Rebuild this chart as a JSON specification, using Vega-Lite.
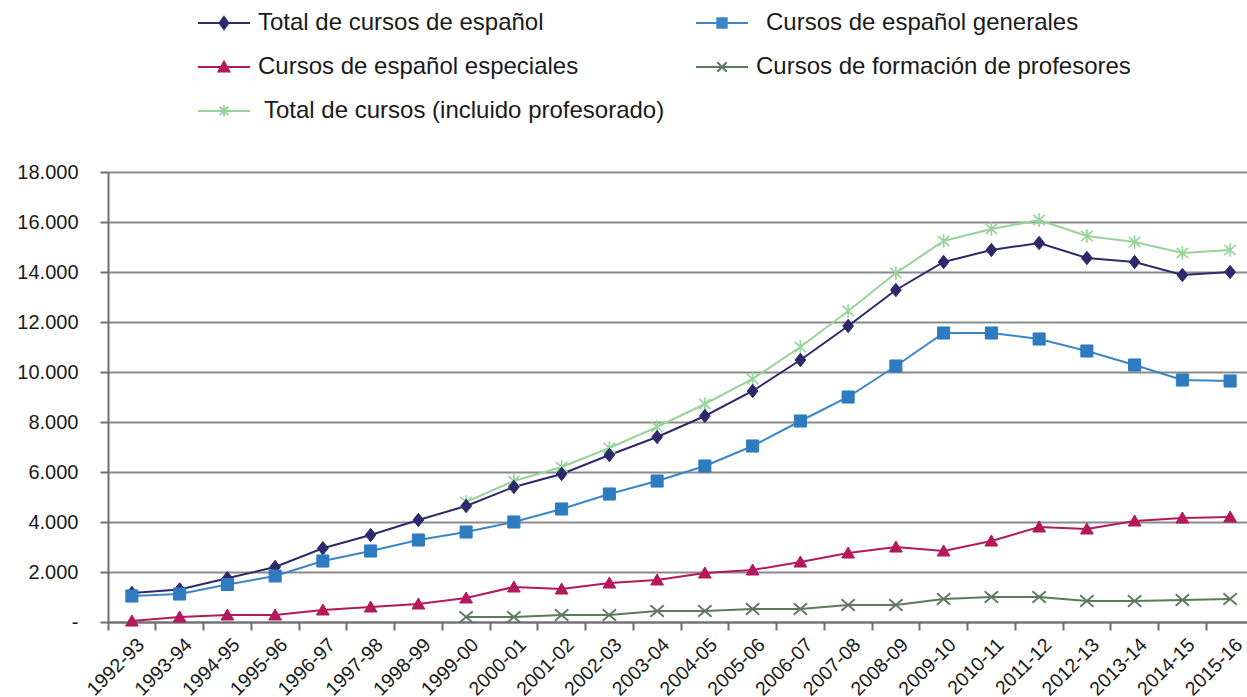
{
  "$schema": "https://vega.github.io/schema/vega-lite/v6.json",
  "width": 1139,
  "height": 450,
  "autosize": {"type": "none"},
  "padding": {"left": 108, "top": 172, "right": 0, "bottom": 75},
  "background": "white",
  "config": {"font": "Liberation Sans", "view": {"stroke": null}},
  "data": {"values": [
    {"periodo": "1992-93", "serie": "Total de cursos de español", "valor": 1160},
    {"periodo": "1993-94", "serie": "Total de cursos de español", "valor": 1300},
    {"periodo": "1994-95", "serie": "Total de cursos de español", "valor": 1750},
    {"periodo": "1995-96", "serie": "Total de cursos de español", "valor": 2200},
    {"periodo": "1996-97", "serie": "Total de cursos de español", "valor": 2950},
    {"periodo": "1997-98", "serie": "Total de cursos de español", "valor": 3480},
    {"periodo": "1998-99", "serie": "Total de cursos de español", "valor": 4080},
    {"periodo": "1999-00", "serie": "Total de cursos de español", "valor": 4640},
    {"periodo": "2000-01", "serie": "Total de cursos de español", "valor": 5400},
    {"periodo": "2001-02", "serie": "Total de cursos de español", "valor": 5920},
    {"periodo": "2002-03", "serie": "Total de cursos de español", "valor": 6680},
    {"periodo": "2003-04", "serie": "Total de cursos de español", "valor": 7400},
    {"periodo": "2004-05", "serie": "Total de cursos de español", "valor": 8240},
    {"periodo": "2005-06", "serie": "Total de cursos de español", "valor": 9240},
    {"periodo": "2006-07", "serie": "Total de cursos de español", "valor": 10480},
    {"periodo": "2007-08", "serie": "Total de cursos de español", "valor": 11840},
    {"periodo": "2008-09", "serie": "Total de cursos de español", "valor": 13280},
    {"periodo": "2009-10", "serie": "Total de cursos de español", "valor": 14400},
    {"periodo": "2010-11", "serie": "Total de cursos de español", "valor": 14880},
    {"periodo": "2011-12", "serie": "Total de cursos de español", "valor": 15160},
    {"periodo": "2012-13", "serie": "Total de cursos de español", "valor": 14560},
    {"periodo": "2013-14", "serie": "Total de cursos de español", "valor": 14400},
    {"periodo": "2014-15", "serie": "Total de cursos de español", "valor": 13880},
    {"periodo": "2015-16", "serie": "Total de cursos de español", "valor": 14000},
    {"periodo": "1992-93", "serie": "Cursos de español generales", "valor": 1040},
    {"periodo": "1993-94", "serie": "Cursos de español generales", "valor": 1120},
    {"periodo": "1994-95", "serie": "Cursos de español generales", "valor": 1500},
    {"periodo": "1995-96", "serie": "Cursos de español generales", "valor": 1840},
    {"periodo": "1996-97", "serie": "Cursos de español generales", "valor": 2440},
    {"periodo": "1997-98", "serie": "Cursos de español generales", "valor": 2840},
    {"periodo": "1998-99", "serie": "Cursos de español generales", "valor": 3280},
    {"periodo": "1999-00", "serie": "Cursos de español generales", "valor": 3600},
    {"periodo": "2000-01", "serie": "Cursos de español generales", "valor": 4000},
    {"periodo": "2001-02", "serie": "Cursos de español generales", "valor": 4520},
    {"periodo": "2002-03", "serie": "Cursos de español generales", "valor": 5120},
    {"periodo": "2003-04", "serie": "Cursos de español generales", "valor": 5640},
    {"periodo": "2004-05", "serie": "Cursos de español generales", "valor": 6240},
    {"periodo": "2005-06", "serie": "Cursos de español generales", "valor": 7040},
    {"periodo": "2006-07", "serie": "Cursos de español generales", "valor": 8040},
    {"periodo": "2007-08", "serie": "Cursos de español generales", "valor": 9000},
    {"periodo": "2008-09", "serie": "Cursos de español generales", "valor": 10240},
    {"periodo": "2009-10", "serie": "Cursos de español generales", "valor": 11560},
    {"periodo": "2010-11", "serie": "Cursos de español generales", "valor": 11560},
    {"periodo": "2011-12", "serie": "Cursos de español generales", "valor": 11320},
    {"periodo": "2012-13", "serie": "Cursos de español generales", "valor": 10840},
    {"periodo": "2013-14", "serie": "Cursos de español generales", "valor": 10280},
    {"periodo": "2014-15", "serie": "Cursos de español generales", "valor": 9680},
    {"periodo": "2015-16", "serie": "Cursos de español generales", "valor": 9640},
    {"periodo": "1992-93", "serie": "Cursos de español especiales", "valor": 40},
    {"periodo": "1993-94", "serie": "Cursos de español especiales", "valor": 200},
    {"periodo": "1994-95", "serie": "Cursos de español especiales", "valor": 280},
    {"periodo": "1995-96", "serie": "Cursos de español especiales", "valor": 280},
    {"periodo": "1996-97", "serie": "Cursos de español especiales", "valor": 480},
    {"periodo": "1997-98", "serie": "Cursos de español especiales", "valor": 600},
    {"periodo": "1998-99", "serie": "Cursos de español especiales", "valor": 720},
    {"periodo": "1999-00", "serie": "Cursos de español especiales", "valor": 960},
    {"periodo": "2000-01", "serie": "Cursos de español especiales", "valor": 1400},
    {"periodo": "2001-02", "serie": "Cursos de español especiales", "valor": 1320},
    {"periodo": "2002-03", "serie": "Cursos de español especiales", "valor": 1560},
    {"periodo": "2003-04", "serie": "Cursos de español especiales", "valor": 1680},
    {"periodo": "2004-05", "serie": "Cursos de español especiales", "valor": 1960},
    {"periodo": "2005-06", "serie": "Cursos de español especiales", "valor": 2080},
    {"periodo": "2006-07", "serie": "Cursos de español especiales", "valor": 2400},
    {"periodo": "2007-08", "serie": "Cursos de español especiales", "valor": 2760},
    {"periodo": "2008-09", "serie": "Cursos de español especiales", "valor": 3000},
    {"periodo": "2009-10", "serie": "Cursos de español especiales", "valor": 2840},
    {"periodo": "2010-11", "serie": "Cursos de español especiales", "valor": 3240},
    {"periodo": "2011-12", "serie": "Cursos de español especiales", "valor": 3800},
    {"periodo": "2012-13", "serie": "Cursos de español especiales", "valor": 3720},
    {"periodo": "2013-14", "serie": "Cursos de español especiales", "valor": 4040},
    {"periodo": "2014-15", "serie": "Cursos de español especiales", "valor": 4160},
    {"periodo": "2015-16", "serie": "Cursos de español especiales", "valor": 4200},
    {"periodo": "1999-00", "serie": "Cursos de formación de profesores", "valor": 200},
    {"periodo": "2000-01", "serie": "Cursos de formación de profesores", "valor": 200},
    {"periodo": "2001-02", "serie": "Cursos de formación de profesores", "valor": 280},
    {"periodo": "2002-03", "serie": "Cursos de formación de profesores", "valor": 280},
    {"periodo": "2003-04", "serie": "Cursos de formación de profesores", "valor": 440},
    {"periodo": "2004-05", "serie": "Cursos de formación de profesores", "valor": 440},
    {"periodo": "2005-06", "serie": "Cursos de formación de profesores", "valor": 520},
    {"periodo": "2006-07", "serie": "Cursos de formación de profesores", "valor": 520},
    {"periodo": "2007-08", "serie": "Cursos de formación de profesores", "valor": 680},
    {"periodo": "2008-09", "serie": "Cursos de formación de profesores", "valor": 680},
    {"periodo": "2009-10", "serie": "Cursos de formación de profesores", "valor": 920},
    {"periodo": "2010-11", "serie": "Cursos de formación de profesores", "valor": 1000},
    {"periodo": "2011-12", "serie": "Cursos de formación de profesores", "valor": 1000},
    {"periodo": "2012-13", "serie": "Cursos de formación de profesores", "valor": 840},
    {"periodo": "2013-14", "serie": "Cursos de formación de profesores", "valor": 840},
    {"periodo": "2014-15", "serie": "Cursos de formación de profesores", "valor": 880},
    {"periodo": "2015-16", "serie": "Cursos de formación de profesores", "valor": 920},
    {"periodo": "1999-00", "serie": "Total de cursos (incluido profesorado)", "valor": 4800},
    {"periodo": "2000-01", "serie": "Total de cursos (incluido profesorado)", "valor": 5640},
    {"periodo": "2001-02", "serie": "Total de cursos (incluido profesorado)", "valor": 6200},
    {"periodo": "2002-03", "serie": "Total de cursos (incluido profesorado)", "valor": 6960},
    {"periodo": "2003-04", "serie": "Total de cursos (incluido profesorado)", "valor": 7800},
    {"periodo": "2004-05", "serie": "Total de cursos (incluido profesorado)", "valor": 8720},
    {"periodo": "2005-06", "serie": "Total de cursos (incluido profesorado)", "valor": 9720},
    {"periodo": "2006-07", "serie": "Total de cursos (incluido profesorado)", "valor": 11000},
    {"periodo": "2007-08", "serie": "Total de cursos (incluido profesorado)", "valor": 12440},
    {"periodo": "2008-09", "serie": "Total de cursos (incluido profesorado)", "valor": 13960},
    {"periodo": "2009-10", "serie": "Total de cursos (incluido profesorado)", "valor": 15240},
    {"periodo": "2010-11", "serie": "Total de cursos (incluido profesorado)", "valor": 15720},
    {"periodo": "2011-12", "serie": "Total de cursos (incluido profesorado)", "valor": 16080},
    {"periodo": "2012-13", "serie": "Total de cursos (incluido profesorado)", "valor": 15440},
    {"periodo": "2013-14", "serie": "Total de cursos (incluido profesorado)", "valor": 15200},
    {"periodo": "2014-15", "serie": "Total de cursos (incluido profesorado)", "valor": 14760},
    {"periodo": "2015-16", "serie": "Total de cursos (incluido profesorado)", "valor": 14880}
  ]},
  "encoding": {
    "x": {
      "field": "periodo", "type": "nominal", "sort": null,
      "scale": {"type": "band", "paddingInner": 0, "paddingOuter": 0, "range": [0, 1146]},
      "axis": {
        "title": null, "bandPosition": 0, "labelOffset": 3, "labelAngle": -45,
        "labelAlign": "right", "labelBaseline": "top", "labelPadding": 5,
        "labelFontSize": 19.5, "labelColor": "#1a1a1a", "labelFont": "Liberation Sans",
        "domainColor": "#6e6e6e", "domainWidth": 2, "tickColor": "#6e6e6e",
        "tickWidth": 2, "tickSize": 8, "grid": false
      }
    },
    "y": {
      "field": "valor", "type": "quantitative",
      "scale": {"domain": [0, 18000], "nice": false},
      "axis": {
        "title": null, "values": [0, 2000, 4000, 6000, 8000, 10000, 12000, 14000, 16000, 18000],
        "labelExpr": "datum.value == 0 ? '-' : replace(format(datum.value, ','), ',', '.')",
        "grid": true, "gridColor": "#8a8a8a", "gridWidth": 2,
        "domainColor": "#6e6e6e", "domainWidth": 2, "tickColor": "#6e6e6e",
        "tickWidth": 2, "tickSize": 8, "labelPadding": 22,
        "labelFontSize": 20, "labelColor": "#1a1a1a", "labelFont": "Liberation Sans"
      }
    }
  },
  "layer": [
    {
      "mark": {"type": "line", "strokeWidth": 2},
      "encoding": {
        "color": {
          "field": "serie", "type": "nominal",
          "scale": {
            "domain": ["Total de cursos de español", "Cursos de español generales", "Cursos de español especiales", "Cursos de formación de profesores", "Total de cursos (incluido profesorado)"],
            "range": ["#2d2a6b", "#3a86c9", "#b3195b", "#5b7a5b", "#98d49a"]
          },
          "legend": {
            "orient": "none", "legendX": 89, "legendY": -176, "columns": 2, "direction": "horizontal", "title": null,
            "labelFont": "Liberation Sans", "labelFontSize": 24, "labelColor": "#1a1a1a",
            "symbolSize": 2704, "labelOffset": 7, "columnPadding": 27, "rowPadding": 5,
            "labelLimit": 600,
            "encode": {
              "labels": {
                "update": {
                  "dx": {"signal": "indexof(datum.value, 'generales') >= 0 ? 10 : (indexof(datum.value, 'incluido') >= 0 ? 6 : 0)"}
                }
              },
              "symbols": {
                "update": {
                  "shape": {"signal": "datum.value == 'Total de cursos de español' ? 'M-1,0H1M0,-0.23L0.17,0L0,0.23L-0.17,0Z' : datum.value == 'Cursos de español generales' ? 'M-1,0H1M-0.18,-0.18H0.18V0.18H-0.18Z' : datum.value == 'Cursos de español especiales' ? 'M-1,0H1M0,-0.2L0.21,0.17H-0.21Z' : datum.value == 'Cursos de formación de profesores' ? 'M-1,0H1M-0.18,-0.18L0.18,0.18M-0.18,0.18L0.18,-0.18' : 'M-1,0H1M-0.16,-0.16L0.16,0.16M-0.16,0.16L0.16,-0.16M0,-0.2V0.2'"},
                  "fill": {"signal": "scale('color', datum.value)"},
                  "stroke": {"signal": "scale('color', datum.value)"},
                  "strokeWidth": {"value": 2},
                  "opacity": {"value": 1},
                  "fillOpacity": {"value": 1},
                  "strokeOpacity": {"value": 1}
                }
              }
            }
          }
        }
      }
    },
    {
      "transform": [{"filter": "datum.serie == 'Total de cursos (incluido profesorado)'"}],
      "mark": {"type": "point", "shape": "M-0.85,-0.75L0.85,0.75M-0.85,0.75L0.85,-0.75M0,-1V1", "filled": false, "stroke": "#98d49a", "strokeWidth": 1.7, "size": 180, "opacity": 1}
    },
    {
      "transform": [{"filter": "datum.serie == 'Total de cursos de español'"}],
      "mark": {"type": "point", "shape": "M0,-1L0.8,0L0,1L-0.8,0Z", "filled": true, "fill": "#2d2a6b", "stroke": "#2d2a6b", "strokeWidth": 1, "size": 180, "opacity": 1}
    },
    {
      "transform": [{"filter": "datum.serie == 'Cursos de español generales'"}],
      "mark": {"type": "point", "shape": "M-0.9,-0.9H0.9V0.9H-0.9Z", "filled": true, "fill": "#2e7bc0", "stroke": "#2e7bc0", "strokeWidth": 1, "size": 180, "opacity": 1}
    },
    {
      "transform": [{"filter": "datum.serie == 'Cursos de español especiales'"}],
      "mark": {"type": "point", "shape": "M0,-0.9L0.95,0.75H-0.95Z", "filled": true, "fill": "#b3195b", "stroke": "#b3195b", "strokeWidth": 1, "size": 180, "opacity": 1}
    },
    {
      "transform": [{"filter": "datum.serie == 'Cursos de formación de profesores'"}],
      "mark": {"type": "point", "shape": "M-1,-0.85L1,0.85M-1,0.85L1,-0.85", "filled": false, "stroke": "#5b7a5b", "strokeWidth": 1.8, "size": 180, "opacity": 1}
    }
  ]
}
